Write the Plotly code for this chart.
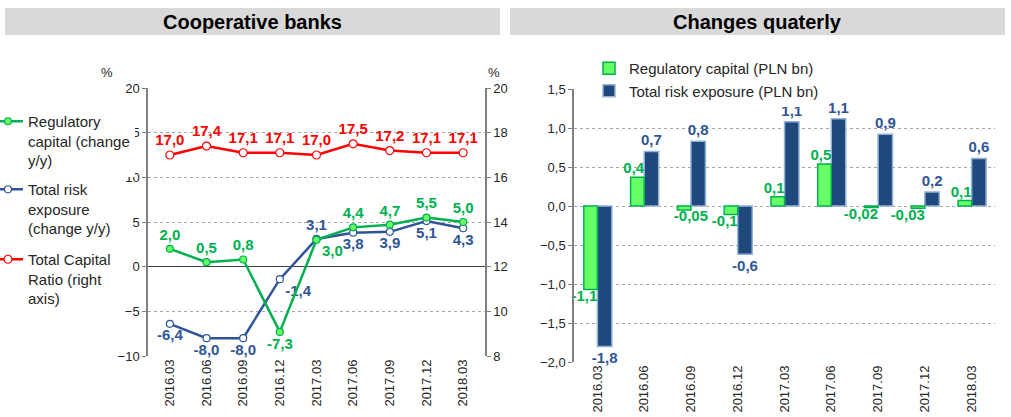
import plotly.graph_objects as go

quarters = ["2016.03", "2016.06", "2016.09", "2016.12", "2017.03",
            "2017.06", "2017.09", "2017.12", "2018.03"]

# left chart: y/y changes (%) and total capital ratio (%)
reg_capital_yy = [2.0, 0.5, 0.8, -7.3, 3.0, 4.4, 4.7, 5.5, 5.0]
risk_exposure_yy = [-6.4, -8.0, -8.0, -1.4, 3.1, 3.8, 3.9, 5.1, 4.3]
capital_ratio = [17.0, 17.4, 17.1, 17.1, 17.0, 17.5, 17.2, 17.1, 17.1]

# right chart: quarterly changes (PLN bn)
reg_capital_q = [-1.07, 0.37, -0.05, -0.11, 0.12, 0.54, -0.02, -0.03, 0.07]
risk_exposure_q = [-1.80, 0.70, 0.83, -0.62, 1.08, 1.12, 0.92, 0.18, 0.61]
reg_capital_q_labels = ["-1,1", "0,4", "-0,05", "-0,1", "0,1", "0,5", "-0,02", "-0,03", "0,1"]
risk_exposure_q_labels = ["-1,8", "0,7", "0,8", "-0,6", "1,1", "1,1", "0,9", "0,2", "0,6"]

W, H = 1011, 417
GREEN = "#00B050"
LIGHT_GREEN = "#66FF66"
BLUE = "#2F5597"
NAVY = "#1F497D"
RED = "#FF0000"
GRID = "#A6A6A6"
AXIS = "#808080"
TXT = "#262626"
FONT = "Liberation Sans, Arial, sans-serif"


def px_x(v):
    return v / W


def px_y(v):
    return 1 - v / H


def fmt(v):
    return f"{v:.1f}".replace(".", ",")


left_dom_x = [px_x(148), px_x(485)]
left_dom_y = [px_y(356), px_y(88)]
right_dom_x = [px_x(574), px_x(995)]
right_dom_y = [px_y(362), px_y(89)]
left_range = [-10, 20]
right_range = [-2, 1.5]


def zero_pos(dom, rng):
    return dom[0] + (0 - rng[0]) / (rng[1] - rng[0]) * (dom[1] - dom[0])


fig = go.Figure()

fig.add_trace(go.Scatter(
    x=quarters, y=capital_ratio, yaxis="y2", xaxis="x",
    name="Total Capital<br>Ratio (right<br>axis)", legend="legend3",
    mode="lines+markers+text",
    line={"color": RED, "width": 2.5},
    marker={"size": 8, "color": "white", "line": {"color": RED, "width": 1.2}},
    text=[fmt(v) for v in capital_ratio], textposition="top center",
    textfont={"color": RED, "size": 15, "family": FONT, "weight": "bold"},
    cliponaxis=False, hoverinfo="skip",
))
fig.add_trace(go.Scatter(
    x=quarters, y=risk_exposure_yy, yaxis="y", xaxis="x",
    name="Total risk<br>exposure<br>(change y/y)", legend="legend2",
    mode="lines+markers+text",
    line={"color": BLUE, "width": 2.5},
    marker={"size": 7, "color": "white", "line": {"color": BLUE, "width": 1.2}},
    text=[fmt(v) for v in risk_exposure_yy],
    textposition=["bottom center", "bottom center", "bottom center", "bottom right",
                  "top center", "bottom center", "bottom center", "bottom center",
                  "bottom center"],
    textfont={"color": BLUE, "size": 15, "family": FONT, "weight": "bold"},
    cliponaxis=False, hoverinfo="skip",
))
fig.add_trace(go.Scatter(
    x=quarters, y=reg_capital_yy, yaxis="y", xaxis="x",
    name="Regulatory<br>capital (change<br>y/y)", legend="legend",
    mode="lines+markers+text",
    line={"color": GREEN, "width": 2.5},
    marker={"size": 7, "color": LIGHT_GREEN, "line": {"color": GREEN, "width": 1.2}},
    text=[fmt(v) for v in reg_capital_yy],
    textposition=["top center", "top center", "top center", "bottom center",
                  "bottom right", "top center", "top center", "top center",
                  "top center"],
    textfont={"color": GREEN, "size": 15, "family": FONT, "weight": "bold"},
    cliponaxis=False, hoverinfo="skip",
))

fig.add_trace(go.Bar(
    x=quarters, y=risk_exposure_q, xaxis="x2", yaxis="y3",
    name="Total risk exposure (PLN bn)", legend="legend4", legendrank=2,
    offset=0, width=0.31,
    marker={"color": NAVY, "line": {"color": "#95B3D7", "width": 1.5}},
    text=risk_exposure_q_labels, textposition="outside", constraintext="none",
    textfont={"color": BLUE, "size": 15, "family": FONT, "weight": "bold"},
    cliponaxis=False, hoverinfo="skip",
))
fig.add_trace(go.Bar(
    x=quarters, y=reg_capital_q, xaxis="x2", yaxis="y3",
    name="Regulatory capital (PLN bn)", legend="legend4", legendrank=1,
    offset=-0.29, width=0.29,
    marker={"color": LIGHT_GREEN, "line": {"color": GREEN, "width": 1.5}},
    cliponaxis=False, hoverinfo="skip",
))
# green value labels, set to the left of the navy bars as in the original
fig.add_trace(go.Scatter(
    x=quarters, y=reg_capital_q, xaxis="x2", yaxis="y3",
    mode="text", showlegend=False, text=reg_capital_q_labels,
    textposition=["bottom left", "top left", "bottom center", "bottom left",
                  "top left", "top left", "bottom left", "bottom left", "top left"],
    textfont={"color": GREEN, "size": 15, "family": FONT, "weight": "bold"},
    cliponaxis=False, hoverinfo="skip",
))

tickfont = {"size": 13, "color": TXT, "family": FONT}
cat_axis = dict(type="category", tickangle=-90, tickfont=tickfont, showgrid=False,
                showline=False, ticks="", zeroline=False, automargin=False)
zero_axis = dict(range=[-0.5, 8.5], tick0=0.5, dtick=1, showticklabels=False,
                 showgrid=False, zeroline=False, showline=True, linecolor="#404040",
                 linewidth=1.2, ticks="outside", ticklen=4, tickcolor="#404040",
                 anchor="free", automargin=False)

legend_common = dict(xanchor="left", yanchor="top", bgcolor="white",
                     font={"size": 15, "color": TXT, "family": FONT},
                     valign="top", indentation=-12, borderwidth=0)

fig.update_layout(
    width=W, height=H,
    margin={"l": 0, "r": 0, "t": 0, "b": 0, "autoexpand": False},
    paper_bgcolor="white", plot_bgcolor="rgba(0,0,0,0)",
    font={"family": FONT, "color": TXT},
    separators=", ",
    barmode="overlay",
    xaxis=dict(domain=left_dom_x, anchor="y", **cat_axis),
    yaxis=dict(domain=left_dom_y, range=left_range, dtick=5, tickfont=tickfont,
               showgrid=True, gridcolor=GRID, griddash="dot", gridwidth=1,
               zeroline=True, zerolinecolor="#404040", zerolinewidth=1.2,
               showline=True, linecolor=AXIS, linewidth=1.5, automargin=False,
               ticks="outside", ticklen=4, tickcolor=AXIS, anchor="x"),
    yaxis2=dict(range=[8, 20], dtick=2, overlaying="y", side="right", anchor="x",
                tickfont=tickfont, showgrid=False, zeroline=False, automargin=False,
                showline=True, linecolor=AXIS, linewidth=1.5,
                ticks="outside", ticklen=4, tickcolor=AXIS),
    xaxis3=dict(overlaying="x", position=zero_pos(left_dom_y, left_range), **zero_axis),
    xaxis2=dict(domain=right_dom_x, anchor="y3", **cat_axis),
    yaxis3=dict(domain=right_dom_y, range=right_range, dtick=0.5, tickformat=".1f",
                tickfont=tickfont, anchor="x2", automargin=False,
                showgrid=True, gridcolor=GRID, griddash="dot", gridwidth=1,
                zeroline=False, showline=True, linecolor=AXIS, linewidth=1.5,
                ticks="outside", ticklen=4, tickcolor=AXIS),
    xaxis4=dict(overlaying="x2", position=zero_pos(right_dom_y, right_range), **zero_axis),
    legend=dict(x=0, y=px_y(105), **legend_common),
    legend2=dict(x=0, y=px_y(173), **legend_common),
    legend3=dict(x=0, y=px_y(243), **legend_common),
    legend4=dict(x=px_x(601), y=px_y(52), xanchor="left", yanchor="top",
                 bgcolor="white", font={"size": 15, "color": TXT, "family": FONT},
                 indentation=-12, borderwidth=0, traceorder="normal"),
    showlegend=True,
)

# title banners
for x0, x1, title in [(5, 500, "Cooperative banks"), (510, 1005, "Changes quaterly")]:
    fig.add_shape(type="rect", xref="paper", yref="paper",
                  x0=px_x(x0), x1=px_x(x1), y0=px_y(35), y1=px_y(8),
                  fillcolor="#D9D9D9", line={"width": 0}, layer="below")
    fig.add_annotation(text=f"<b>{title}</b>", xref="paper", yref="paper",
                       x=px_x((x0 + x1) / 2), y=px_y(21.5), showarrow=False,
                       xanchor="center", yanchor="middle",
                       font={"size": 20, "color": "black", "family": FONT})

for xpos in [107, 494]:
    fig.add_annotation(text="%", xref="paper", yref="paper", x=px_x(xpos), y=px_y(72),
                       showarrow=False, xanchor="center", yanchor="middle",
                       font={"size": 13, "color": TXT, "family": FONT})

# pin the chart to the page corner so the 1011x417 window shows all of it
pin = ("document.body.style.margin='0';"
       "var gd=document.getElementById('{plot_id}');"
       "gd.style.position='fixed';gd.style.left='0px';gd.style.top='0px';")

fig.write_html("out.html", post_script=pin, config={"displayModeBar": False})
